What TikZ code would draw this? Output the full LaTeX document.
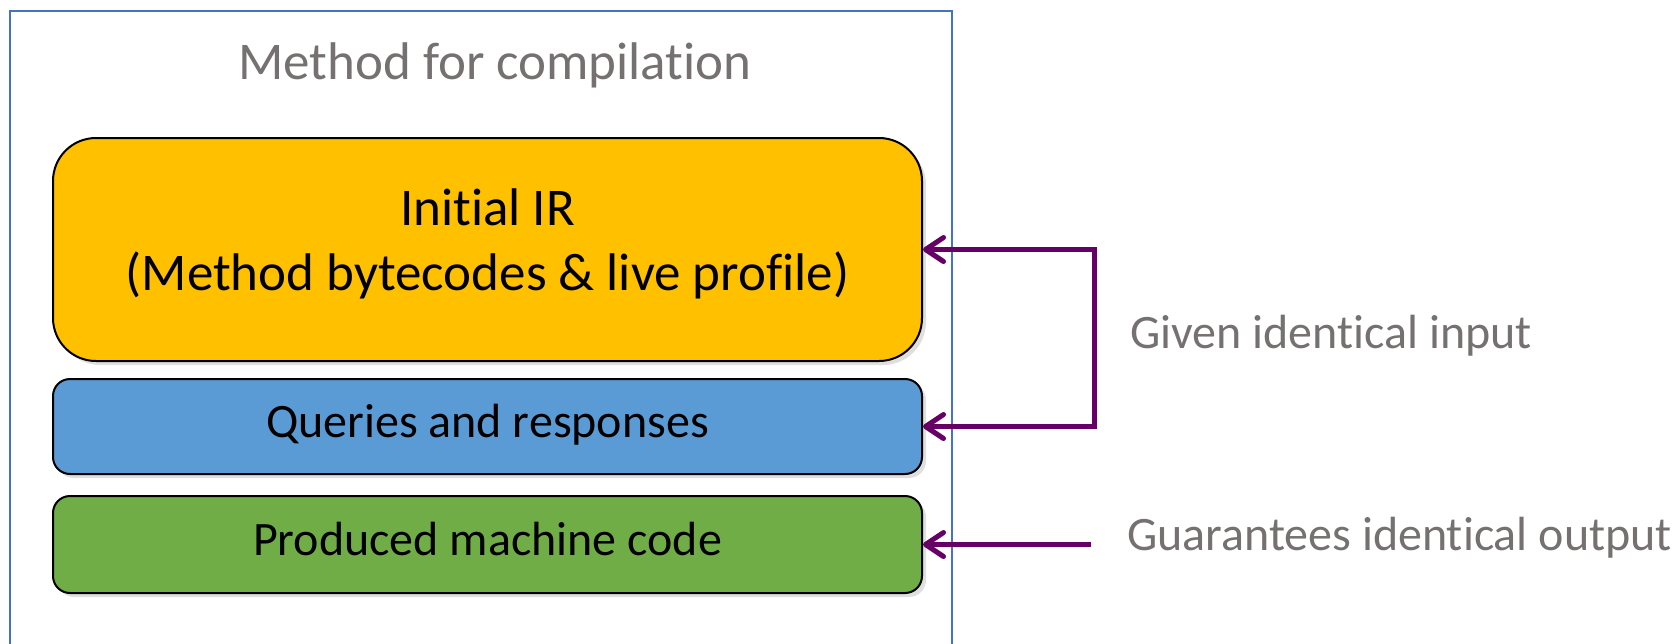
\documentclass[tikz,border=0pt]{standalone}
\usepackage{fontspec}
\setmainfont{Carlito}[Ligatures=NoCommon]
\usepackage{xcolor}
\usepackage{tikz}
\usetikzlibrary{arrows.meta,positioning,shadows}
\definecolor{frameblue}{HTML}{4472C4}
\definecolor{irgold}{HTML}{FFC000}
\definecolor{qblue}{HTML}{5B9BD5}
\definecolor{mcgreen}{HTML}{70AD47}
\definecolor{linkpurple}{HTML}{660066}
\definecolor{notegray}{HTML}{767171}

\begin{document}
\begin{tikzpicture}[x=0.5pt,y=-0.5pt,
  >={Straight Barb[length=9pt,width=12pt,round]},
  stage/.style={draw=black,line width=1pt,inner sep=0pt,minimum width=434.5pt,
    font=\fontsize{24}{29}\selectfont,
    drop shadow={opacity=0.25,shadow xshift=2pt,shadow yshift=-2pt}},
  oneline/.style={text height=16.8pt,text depth=5.8pt},
  link/.style={draw=linkpurple,line width=2.5pt},
  note/.style={text=notegray,font=\fontsize{24}{29}\selectfont}]
  \clip (0,0) rectangle (1675,643);
  \draw[frameblue,line width=1pt] (10,11) rectangle (952,700);
  \node[note,anchor=base,font=\fontsize{26.5}{32}\selectfont] (title) at (495,79) {Method for compilation};
  \node[stage,fill=irgold,rounded corners=21.5pt,minimum height=111.5pt,align=center,text depth=10pt,font=\fontsize{26.5}{32.5}\selectfont] (ir) at (487.5,249.5) {Initial IR\\(Method bytecodes \& live profile)};
  \node[stage,oneline,fill=qblue,rounded corners=8.5pt,minimum height=47.5pt] (queries) at (487.5,426.5) {Queries and responses};
  \node[stage,oneline,fill=mcgreen,rounded corners=8.5pt,minimum height=48.5pt] (code) at (487.5,544.5) {Produced machine code};
  \node[note,anchor=base west] (given) at (1123,348) {Given identical input};
  \node[note,anchor=base west] (guarantee) at (1120,550) {Guarantees identical output};
  \coordinate (outtail) at (1091,544.5);
  \draw[link,<->] (ir.east) -- ++(171,0) |- (queries.east);
  \draw[link,<-] (code.east) -- (outtail);
\end{tikzpicture}
\end{document}
